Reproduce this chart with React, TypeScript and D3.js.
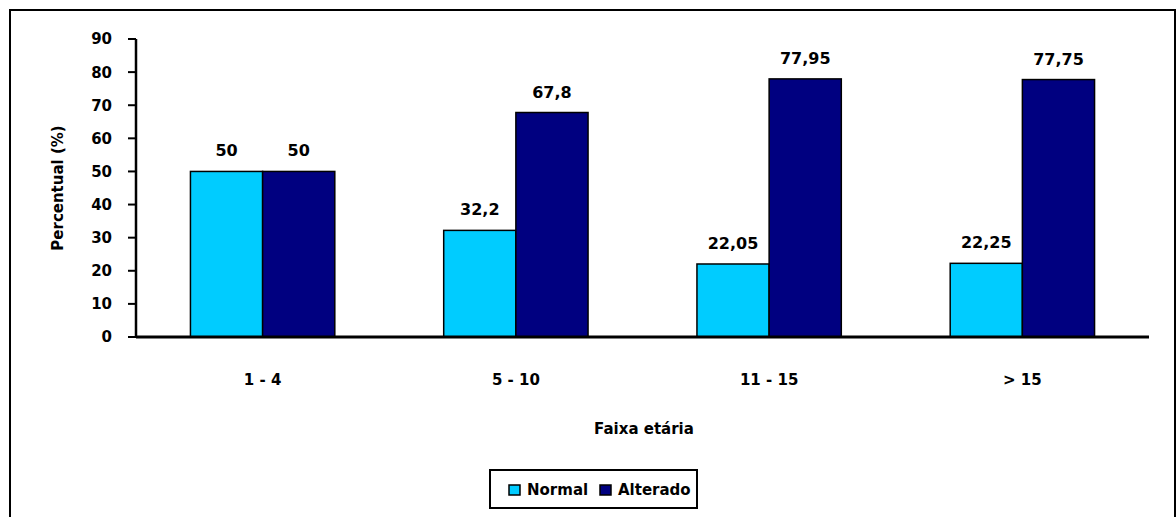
import React from "react";
import * as d3 from "d3";

const categories = ["1 - 4", "5 - 10", "11 - 15", "> 15"];
const seriesNames = ["Normal", "Alterado"];
const normalValues = [50, 32.2, 22.05, 22.25];
const alteradoValues = [50, 67.8, 77.95, 77.75];
const yTicks = [0, 10, 20, 30, 40, 50, 60, 70, 80, 90];
const colors = ["#00CCFF", "#000080"];

const W = 1176;
const H = 517;
const FONT = "'DejaVu Sans', Verdana, sans-serif";

const fmt = (v: number) => String(v).replace(".", ",");

export default function App() {
  const left = 136;
  const right = 1149;
  const top = 39;
  const bottom = 337;

  const x = d3.scaleBand<string>().domain(categories).range([left, right]).paddingInner(0.43).paddingOuter(0.215);
  const xs = d3.scaleBand<string>().domain(seriesNames).range([0, x.bandwidth()]);
  const y = d3.scaleLinear().domain([0, 90]).range([bottom, top]);

  const series = [normalValues, alteradoValues];

  return (
    <svg width={W} height={H} style={{ position: "absolute", left: 0, top: 0, background: "#fff" }}>
      <rect x={0} y={0} width={W} height={H} fill="#fff" />
      {/* outer chart frame */}
      <path d={`M10,${H + 5} L10,10 L${W - 1},10 L${W - 1},${H + 5}`} fill="none" stroke="#000" strokeWidth={2} />

      {/* bars */}
      {categories.map((c, ci) =>
        series.map((vals, si) => (
          <rect
            key={`${c}-${si}`}
            x={(x(c) ?? 0) + (xs(seriesNames[si]) ?? 0)}
            y={y(vals[ci])}
            width={xs.bandwidth()}
            height={bottom - y(vals[ci])}
            fill={colors[si]}
            stroke="#000"
            strokeWidth={1.5}
          />
        ))
      )}

      {/* value labels */}
      {categories.map((c, ci) =>
        series.map((vals, si) => (
          <text
            key={`l-${c}-${si}`}
            x={(x(c) ?? 0) + (xs(seriesNames[si]) ?? 0) + xs.bandwidth() / 2}
            y={y(vals[ci]) - 15}
            textAnchor="middle"
            fontFamily={FONT}
            fontWeight="bold"
            fontSize={16}
            fill="#000"
          >
            {fmt(vals[ci])}
          </text>
        ))
      )}

      {/* y axis */}
      <line x1={left} x2={left} y1={top} y2={bottom} stroke="#000" strokeWidth={2.5} />
      {yTicks.map((t) => (
        <g key={t}>
          <line x1={left - 8} x2={left} y1={y(t)} y2={y(t)} stroke="#000" strokeWidth={2} />
          <text x={left - 24} y={y(t)} dy="0.36em" textAnchor="end" fontFamily={FONT} fontWeight="bold" fontSize={15}>
            {t}
          </text>
        </g>
      ))}

      {/* x axis */}
      <line x1={left} x2={right} y1={bottom} y2={bottom} stroke="#000" strokeWidth={3} />
      {categories.map((c) => (
        <text
          key={`c-${c}`}
          x={(x(c) ?? 0) + x.bandwidth() / 2}
          y={385}
          textAnchor="middle"
          fontFamily={FONT}
          fontWeight="bold"
          fontSize={15}
        >
          {c}
        </text>
      ))}

      {/* axis titles */}
      <text x={644} y={434} textAnchor="middle" fontFamily={FONT} fontWeight="bold" fontSize={15}>
        Faixa etária
      </text>
      <text
        transform={`translate(63,${(top + bottom) / 2}) rotate(-90)`}
        textAnchor="middle"
        fontFamily={FONT}
        fontWeight="bold"
        fontSize={15}
      >
        Percentual (%)
      </text>

      {/* legend */}
      <rect x={490} y={470} width={207} height={38} fill="#fff" stroke="#000" strokeWidth={2} />
      {seriesNames.map((s, i) => {
        const lx = i === 0 ? 509 : 600;
        return (
          <g key={s}>
            <rect x={lx} y={485} width={11} height={10} fill={colors[i]} stroke="#000" strokeWidth={1.5} />
            <text x={lx + 18} y={495} fontFamily={FONT} fontWeight="bold" fontSize={15}>
              {s}
            </text>
          </g>
        );
      })}
    </svg>
  );
}
